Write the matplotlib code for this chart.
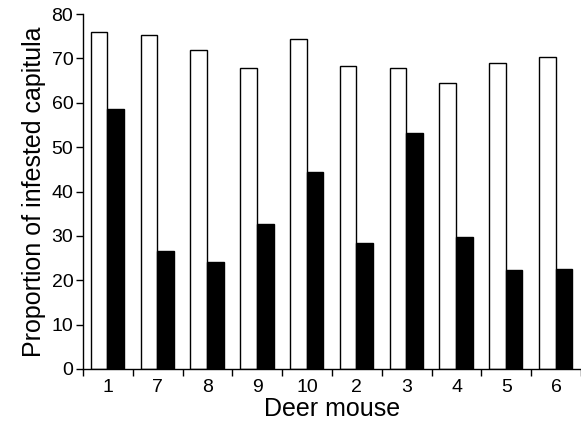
import numpy as np
import matplotlib.pyplot as plt

plt.rcParams['font.family'] = ['Liberation Sans', 'DejaVu Sans']

mice = ['1', '7', '8', '9', '10', '2', '3', '4', '5', '6']
open_vals = [75.9, 75.3, 71.8, 67.8, 74.5, 68.4, 67.8, 64.4, 69.0, 70.4]
filled_vals = [58.7, 26.7, 24.0, 32.6, 44.5, 28.5, 53.1, 29.8, 22.4, 22.5]

fig = plt.figure(figsize=(5.81, 4.28), dpi=100)
ax = fig.add_axes([0.143, 0.138, 0.857, 0.829])

x = np.arange(len(mice)) + 0.49
w = 0.335
ax.bar(x - w / 2, open_vals, w, color='white', edgecolor='black', linewidth=1.0)
ax.bar(x + w / 2, filled_vals, w, color='black', edgecolor='black', linewidth=1.0)

ax.set_xlim(0, len(mice))
ax.set_ylim(0, 80)
ax.set_yticks(np.arange(0, 81, 10))
ax.set_xticks(np.arange(len(mice)) + 0.5)
ax.set_xticklabels(mice)
ax.set_xticks(np.arange(len(mice) + 1), minor=True)
ax.tick_params(axis='x', which='major', length=0, pad=7, labelsize=14)
ax.tick_params(axis='x', which='minor', length=5, width=1)
ax.tick_params(axis='y', length=5, width=1, labelsize=14, pad=2)

for s in ['top', 'right']:
    ax.spines[s].set_visible(False)
for s in ['left', 'bottom']:
    ax.spines[s].set_linewidth(1.0)

ax.set_xlabel('Deer mouse', fontsize=18, labelpad=1)
ax.set_ylabel('Proportion of infested capitula', fontsize=18, labelpad=4)

fig.savefig('out.png', dpi=100)
